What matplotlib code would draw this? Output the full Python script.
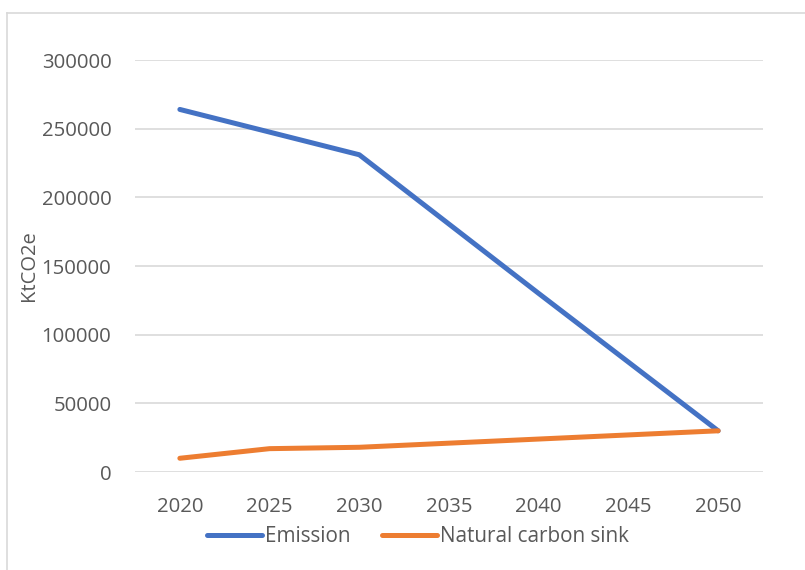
import matplotlib
matplotlib.use("Agg")
import matplotlib.pyplot as plt
from matplotlib.lines import Line2D

years = ["2020", "2025", "2030", "2035", "2040", "2045", "2050"]
emission = [264000, 247500, 231000, 180500, 130000, 80000, 30000]
sink = [10000, 17000, 18000, 21000, 24000, 27000, 30000]
yticks = [0, 50000, 100000, 150000, 200000, 250000, 300000]

plt.rcParams['font.family'] = ['Open Sans', 'DejaVu Sans']
txt = '#595959'

fig = plt.figure(figsize=(8.05, 5.70), dpi=100)
W, H = 805, 570
ax = fig.add_axes([135 / W, 1 - 472 / H, (763 - 135) / W, (472 - 60) / H])

x = list(range(len(years)))
ax.plot(x, emission, color='#4472C4', lw=3.6, solid_capstyle='round', solid_joinstyle='round', label='Emission')
ax.plot(x, sink, color='#ED7D31', lw=3.6, solid_capstyle='round', solid_joinstyle='round', label='Natural carbon sink')

ax.set_xlim(-0.5, len(years) - 0.5)
ax.set_ylim(0, 300000)
ax.set_yticks(yticks)
ax.set_yticklabels([str(v) for v in yticks])
ax.set_xticks(x)
ax.set_xticklabels(years)
ax.grid(axis='y', color='#D9D9D9', lw=1.2)
ax.set_axisbelow(True)
for s in ax.spines.values():
    s.set_visible(False)
ax.tick_params(axis='both', length=0, labelsize=14.7, labelcolor=txt)
ax.tick_params(axis='y', pad=17)
ax.tick_params(axis='x', pad=18)
ax.set_ylabel('KtCO2e', fontsize=14.5, color=txt)
ax.yaxis.set_label_coords(-96 / 628, 0.5)

leg = fig.legend(loc='center', bbox_to_anchor=(418 / W, 1 - 537 / H), ncol=2, frameon=False,
                 fontsize=14.9, handlelength=2.65, handletextpad=0.15, columnspacing=1.5)
for t in leg.get_texts():
    t.set_color(txt)

fig.add_artist(Line2D([7 / W, 7 / W], [0, 1 - 13 / H], transform=fig.transFigure, color='#D9D9D9', lw=1.2))
fig.add_artist(Line2D([7 / W, 1], [1 - 13 / H, 1 - 13 / H], transform=fig.transFigure, color='#D9D9D9', lw=1.2))

fig.savefig('out.png', dpi=100)
